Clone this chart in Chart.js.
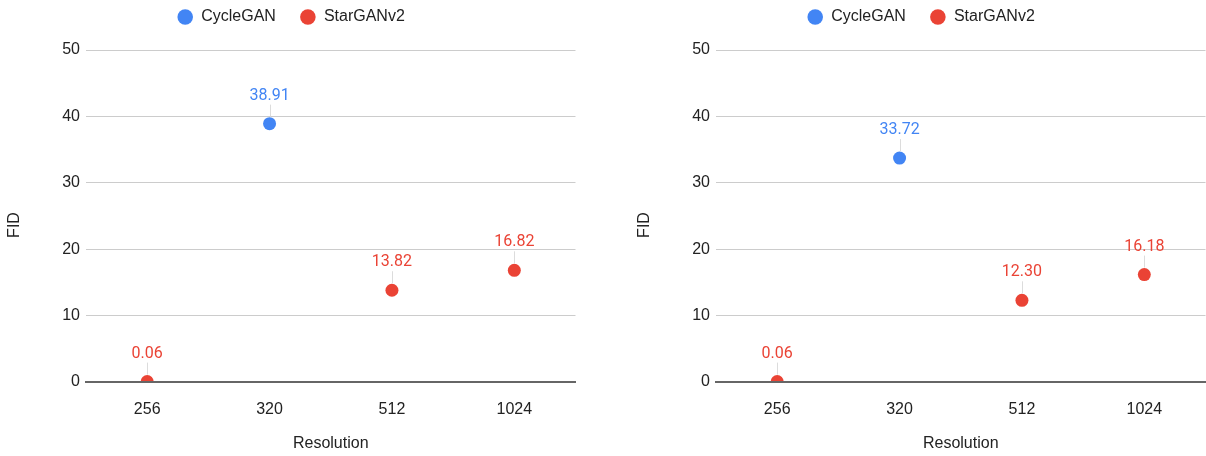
<!DOCTYPE html>
<html>
<head>
<meta charset="utf-8">
<script src="https://cdn.jsdelivr.net/npm/chart.js"></script>
<style>
  html, body { margin: 0; padding: 0; background: #fff; overflow: hidden; }
  .box { position: absolute; top: 0; width: 582px; height: 456px; }
  #left { left: 0; }
  #right { left: 630px; }
</style>
</head>
<body>
<div class="box" id="left"><canvas id="chartA"></canvas></div>
<div class="box" id="right"><canvas id="chartB"></canvas></div>
<script>
// data
const resolutions = ['256', '320', '512', '1024'];
const cycleganA = [null, 38.91, null, null];
const starganA = [0.06, null, 13.82, 16.82];
const cycleganB = [null, 33.72, null, null];
const starganB = [0.06, null, 12.30, 16.18];
const yTicks = [0, 10, 20, 30, 40, 50];

const BLUE = '#4285F4';
const RED = '#EA4335';
const TEXT = '#222222';
const baseFont = '"Liberation Sans", Arial, sans-serif';

// keep the legend high up and leave room above the plot,
// and nudge the y title down a little like the original
const layoutFix = {
  id: 'layoutFix',
  beforeLayout(chart) {
    const lg = chart.legend;
    if (!lg || lg._fixed) return;
    const fit = lg.fit;
    lg.fit = function () { fit.call(this); this.height = 50; };
    const draw = lg.draw;
    lg.draw = function (area) {
      const c = this.ctx;
      c.save();
      c.translate(0, -15);
      draw.call(this, area);
      c.restore();
    };
    lg._fixed = true;
  },
  beforeDraw(chart) {
    const y = chart.scales.y;
    if (!y || y._titleFixed) return;
    const drawTitle = y.drawTitle;
    y.drawTitle = function () {
      const c = this.ctx;
      c.save();
      c.translate(0, 9);
      drawTitle.call(this);
      c.restore();
    };
    y._titleFixed = true;
  }
};

// value labels above each point, with a thin leader line
const valueLabels = {
  id: 'valueLabels',
  afterDatasetsDraw(chart) {
    const ctx = chart.ctx;
    chart.data.datasets.forEach((ds, di) => {
      const meta = chart.getDatasetMeta(di);
      meta.data.forEach((pt, i) => {
        const v = ds.data[i];
        if (v === null || v === undefined) return;
        const x = pt.x, y = pt.y;
        const ly = y - 28;
        ctx.save();
        ctx.strokeStyle = '#dcdcdc';
        ctx.lineWidth = 1;
        ctx.beginPath();
        ctx.moveTo(Math.round(x) + 0.5, y - 7);
        ctx.lineTo(Math.round(x) + 0.5, ly + 9);
        ctx.stroke();
        ctx.fillStyle = ds.borderColor;
        ctx.font = '16px Roboto, sans-serif';
        ctx.textAlign = 'center';
        ctx.textBaseline = 'middle';
        ctx.fillText(v.toFixed(2), x, ly);
        ctx.restore();
      });
    });
  }
};

function makeChart(id, cyc, star) {
  const ctx = document.getElementById(id).getContext('2d');
  return new Chart(ctx, {
    type: 'line',
    data: {
      labels: resolutions,
      datasets: [
        {
          label: 'CycleGAN',
          data: cyc,
          borderColor: BLUE,
          backgroundColor: BLUE,
          showLine: false,
          pointRadius: 6.5,
          pointHoverRadius: 6.5,
          pointBorderWidth: 0,
          clip: 0
        },
        {
          label: 'StarGANv2',
          data: star,
          borderColor: RED,
          backgroundColor: RED,
          showLine: false,
          pointRadius: 6.5,
          pointHoverRadius: 6.5,
          pointBorderWidth: 0,
          clip: 0
        }
      ]
    },
    options: {
      responsive: true,
      maintainAspectRatio: false,
      animation: false,
      layout: { padding: 0 },
      plugins: {
        legend: {
          position: 'top',
          labels: {
            usePointStyle: true,
            pointStyle: 'circle',
            boxWidth: 16,
            boxHeight: 11,
            padding: 24,
            color: TEXT,
            font: { family: baseFont, size: 16 }
          }
        },
        tooltip: { enabled: false }
      },
      scales: {
        x: {
          offset: true,
          grid: { display: false },
          border: { display: true, color: '#666666', width: 2, z: 1 },
          ticks: { color: TEXT, padding: 10, font: { family: baseFont, size: 16 } },
          title: {
            display: true,
            text: 'Resolution',
            color: TEXT,
            font: { family: baseFont, size: 16 },
            padding: { top: 0, bottom: 3 }
          },
          afterFit(scale) { scale.height = 74; }
        },
        y: {
          min: yTicks[0],
          max: yTicks[yTicks.length - 1],
          grid: { color: '#cccccc', lineWidth: 1, drawTicks: false },
          border: { display: false },
          ticks: { stepSize: 10, color: TEXT, padding: 6, font: { family: baseFont, size: 16 } },
          title: {
            display: true,
            text: 'FID',
            color: TEXT,
            font: { family: baseFont, size: 16 },
            padding: { top: 5, bottom: 0 }
          },
          afterFit(scale) { scale.width = 86; }
        }
      }
    },
    plugins: [layoutFix, valueLabels]
  });
}

makeChart('chartA', cycleganA, starganA);
makeChart('chartB', cycleganB, starganB);
</script>
</body>
</html>
